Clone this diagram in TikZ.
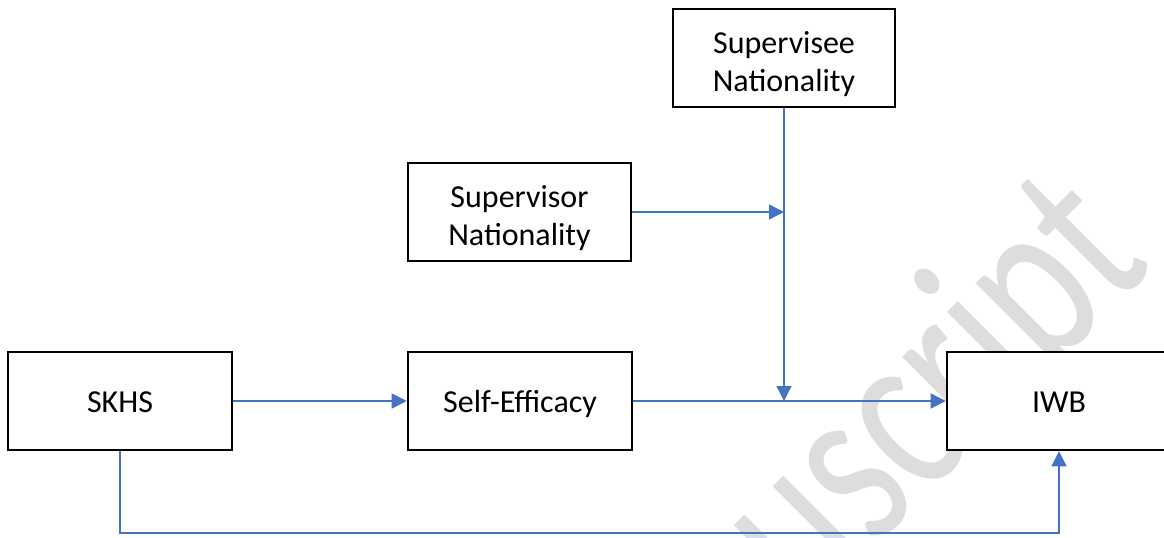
\documentclass[tikz,border=0pt]{standalone}
\usepackage{fontspec}
\setmainfont{Carlito}
\usetikzlibrary{arrows.meta}
\definecolor{linkblue}{HTML}{4472C4}
\definecolor{wmgray}{HTML}{DDDDDD}
% centred block of lines, set a little lower in its box
\newcommand{\boxlines}[2][3pt]{\raisebox{-#1}[\height][\depth]{\begin{tabular}{@{}c@{}}#2\end{tabular}}}
\begin{document}
\begin{tikzpicture}[x=0.75pt,y=-0.75pt,
  box/.style={draw=black,line width=1.9pt,fill=white,minimum width=168pt,
    minimum height=73.5pt,inner sep=0pt,
    font=\fontsize{24}{28.5}\selectfont},
  link/.style={draw=linkblue,line width=1pt,
    -{Triangle[length=11.25pt,width=11.25pt]}},
  mark text/.style={text=wmgray,rotate=45,anchor=base east,inner sep=0pt,
    font=\fontsize{180}{180}\selectfont}]
\useasboundingbox (0,0) rectangle (1164,538);
\clip (0,0) rectangle (1164,538);

% faint background stamp
\node[mark text] (stamp) at (1156,266) {\scalebox{0.74}[1]{Manuscript}};

% variables
\node[box] (skhs) at (120,401) {\boxlines{SKHS}};
\node[box] (se) at (520,401) {\boxlines{Self-Efficacy}};
\node[box] (iwb) at (1059,401) {\boxlines{IWB}};
\node[box,minimum width=167.25pt] (svr) at (519.5,212) {\boxlines[5.3pt]{Supervisor\\Nationality}};
\node[box,minimum width=166.5pt] (sve) at (784,58) {\boxlines[5.3pt]{Supervisee\\Nationality}};

% junctions of the moderator paths
\coordinate (j1) at (784,212);
\coordinate (j2) at (784,401);
\coordinate (low) at (0,533);

% paths
\draw[link] (skhs) -- (se);
\draw[link] (se) -- (iwb);
\draw[link] (svr.east) -- (j1);
\draw[link] (sve.south) -- (j2);
\draw[link] (skhs.south) -- (skhs.south |- low) -- (iwb.south |- low) -- (iwb.south);
\end{tikzpicture}
\end{document}
